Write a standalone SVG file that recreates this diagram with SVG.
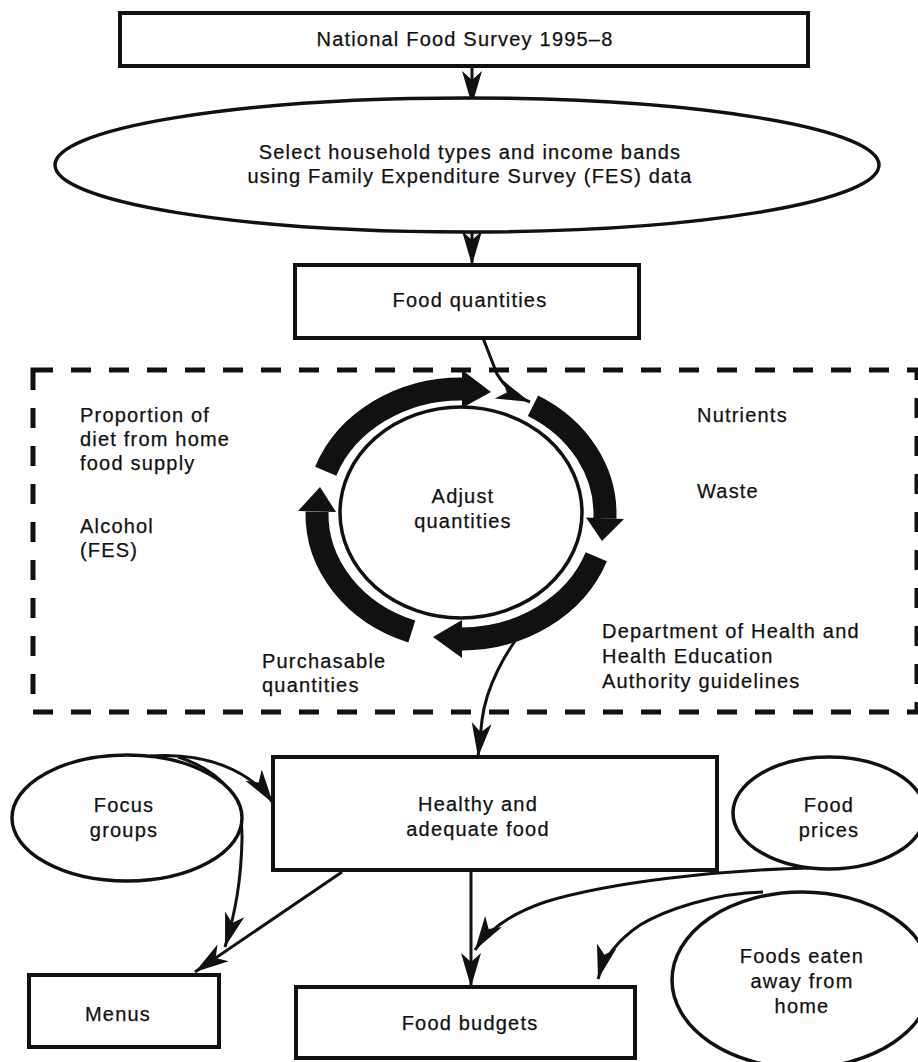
<svg xmlns="http://www.w3.org/2000/svg" width="918" height="1062" viewBox="0 0 918 1062">
<style>
text{font-family:"Liberation Sans",Arial,sans-serif;font-size:20px;letter-spacing:1.2px;fill:#111;stroke:#111;stroke-width:0.25}
.c{text-anchor:middle}
.box{fill:#fff;stroke:#111;stroke-width:4}
.ell{fill:#fff;stroke:#111;stroke-width:3.5}
.con{fill:none;stroke:#111;stroke-width:3;marker-end:url(#ah)}
.band{fill:none;stroke:#111;stroke-width:23}
.head{fill:#111}
.dash{fill:none;stroke:#111;stroke-width:5;stroke-dasharray:20 18}
</style>
<defs>
<marker id="ah" markerUnits="userSpaceOnUse" markerWidth="36" markerHeight="24" viewBox="0 0 36 24" refX="34" refY="12" orient="auto">
<path d="M0,2 L34,12 L0,22 L9,12 Z" fill="#111"/>
</marker>
</defs>
<rect width="918" height="1062" fill="#fff"/>

<g id="adjust-region">
<rect class="dash" x="33" y="370" width="884" height="342"/>
</g>

<g id="connectors">
<path class="con" d="M472,66 L472,105"/>
<path class="con" d="M472,228 L472,265"/>
<path class="con" d="M483,338 L497,374 Q508,393 530,402"/>
<path class="con" d="M530,622 C505,650 486,688 482,720 L478,757"/>
<path class="con" d="M471,870 L471,987"/>
<path class="con" d="M342,872 L195,972"/>
<path class="con" d="M150,756 C205,752 250,770 273,803"/>
<path class="con" d="M178,757 C225,772 243,800 242,840 C241,880 236,910 225,947"/>
<path class="con" d="M810,868 C720,870 610,882 545,902 C510,914 488,930 475,950"/>
<path class="con" d="M763,892 C715,893 665,910 640,925 C615,942 603,960 598,979"/>
</g>

<g id="national-food-survey">
<rect class="box" x="120" y="13" width="688" height="53"/>
<text class="c" x="465" y="46">National Food Survey 1995–8</text>
</g>

<g id="select-household">
<ellipse class="ell" cx="467" cy="165" rx="412" ry="67"/>
<text class="c" x="470" y="159">Select household types and income bands</text>
<text class="c" x="470" y="183">using Family Expenditure Survey (FES) data</text>
</g>

<g id="food-quantities">
<rect class="box" x="295" y="265" width="344" height="73"/>
<text class="c" x="470" y="307">Food quantities</text>
</g>

<g id="cycle">
<path class="band" d="M325.7,471.2 A144,125 0 0 1 463.5,389"/>
<polygon class="head" points="462,370 462,408 491,392"/>
<path class="band" d="M533,405.7 A144,125 0 0 1 604.9,518.4"/>
<polygon class="head" points="586,517.5 624,519 602,541"/>
<path class="band" d="M596.3,556.8 A144,125 0 0 1 461,639"/>
<polygon class="head" points="462,620 462,658 433,637"/>
<path class="band" d="M411.8,631.5 A144,125 0 0 1 317,511.8"/>
<polygon class="head" points="298,511 336,512 320,487"/>
</g>

<g id="adjust-quantities">
<ellipse class="ell" cx="461" cy="512.5" rx="121" ry="105.5" stroke-width="4"/>
<text class="c" x="463" y="503">Adjust</text>
<text class="c" x="463" y="528">quantities</text>
</g>

<g id="labels">
<text x="80" y="422">Proportion of</text>
<text x="80" y="446">diet from home</text>
<text x="80" y="470">food supply</text>
<text x="80" y="533">Alcohol</text>
<text x="80" y="557">(FES)</text>
<text x="697" y="422">Nutrients</text>
<text x="697" y="498">Waste</text>
<text x="602" y="638">Department of Health and</text>
<text x="602" y="663">Health Education</text>
<text x="602" y="688">Authority guidelines</text>
<text x="262" y="668">Purchasable</text>
<text x="262" y="692">quantities</text>
</g>

<g id="healthy-food">
<rect class="box" x="273" y="757" width="444" height="113"/>
<text class="c" x="478" y="811">Healthy and</text>
<text class="c" x="478" y="836">adequate food</text>
</g>

<g id="focus-groups">
<ellipse class="ell" cx="127" cy="818" rx="115" ry="63"/>
<text class="c" x="124" y="812">Focus</text>
<text class="c" x="124" y="837">groups</text>
</g>

<g id="food-prices">
<ellipse class="ell" cx="829" cy="813" rx="96" ry="56"/>
<text class="c" x="829" y="812">Food</text>
<text class="c" x="829" y="837">prices</text>
</g>

<g id="foods-away">
<ellipse class="ell" cx="802" cy="980" rx="130" ry="88"/>
<text class="c" x="802" y="963">Foods eaten</text>
<text class="c" x="802" y="988">away from</text>
<text class="c" x="802" y="1013">home</text>
</g>

<g id="menus">
<rect class="box" x="29" y="975" width="190" height="72"/>
<text class="c" x="118" y="1021">Menus</text>
</g>

<g id="food-budgets">
<rect class="box" x="296" y="987" width="339" height="71"/>
<text class="c" x="470" y="1030">Food budgets</text>
</g>
</svg>
